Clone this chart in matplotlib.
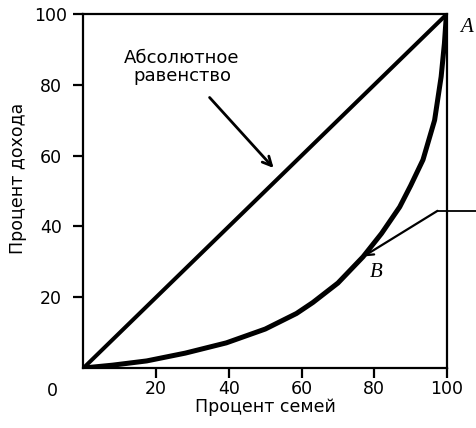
import matplotlib.pyplot as plt
import numpy as np

plt.rcParams['font.family'] = ['DejaVu Sans']

# cumulative share of families (x) and of income (y), in percent
equal_x = [0, 100]
equal_y = [0, 100]
lorenz_x = [0, 8, 17.4, 28, 39.3, 50, 58.6, 63.1, 70, 76.9, 82, 87, 90, 93.4, 96.6, 98.4, 99.3, 99.8, 100]
lorenz_y = [0, 0.8, 2.0, 4.2, 7.1, 11, 15.4, 18.5, 24, 31.4, 38, 45.5, 51.5, 58.8, 70, 82.3, 91.7, 99.2, 100]
ticks = [20, 40, 60, 80, 100]

fig = plt.figure(figsize=(4.76, 4.28), dpi=100)
ax = fig.add_axes([0.1754, 0.1402, 0.7636, 0.8271])

ax.plot(equal_x, equal_y, color='black', lw=2.9, solid_capstyle='butt')
ax.plot(lorenz_x, lorenz_y, color='black', lw=3.6, solid_joinstyle='round',
        solid_capstyle='butt')

ax.set_xlim(0, 100)
ax.set_ylim(0, 100)
ax.set_xticks(ticks)
ax.set_yticks(ticks)
ax.tick_params(length=7.5, width=1.6, labelsize=12.5)
ax.xaxis.set_tick_params(pad=1.5)
ax.yaxis.set_tick_params(pad=16)
for lab in ax.get_yticklabels():
    lab.set_horizontalalignment('center')
for s in ax.spines.values():
    s.set_linewidth(1.6)

ax.text(-0.085, -0.066, '0', transform=ax.transAxes, fontsize=12.5,
        ha='center', va='center')
ax.set_xlabel('Процент семей', fontsize=12.5, labelpad=0)
ax.set_ylabel('Процент дохода', fontsize=12.5)
ax.yaxis.set_label_coords(-0.155, 0.537)

# equality label
ax.annotate('Абсолютное\nравенство', xy=(52.3, 56.5), xytext=(27.1, 85),
            ha='center', va='center', fontsize=13, linespacing=1.05,
            arrowprops=dict(arrowstyle='->', color='black', lw=2,
                            mutation_scale=16, shrinkA=9, shrinkB=0))

# pointer to B coming in from the right
ax.plot([108, 97.4], [44.4, 44.4], color='black', lw=1.3, clip_on=False)
ax.annotate('', xy=(77, 31.5), xytext=(97.4, 44.4),
            arrowprops=dict(arrowstyle='->', color='black', lw=1.6,
                            mutation_scale=14, shrinkA=0, shrinkB=0))

ax.text(105.5, 96.3, 'A', fontsize=15, family='Liberation Serif',
        style='italic', ha='center', va='center', clip_on=False)
ax.text(80.4, 27.1, 'B', fontsize=15, family='Liberation Serif',
        style='italic', ha='center', va='center')

plt.savefig('out.png', dpi=100)
